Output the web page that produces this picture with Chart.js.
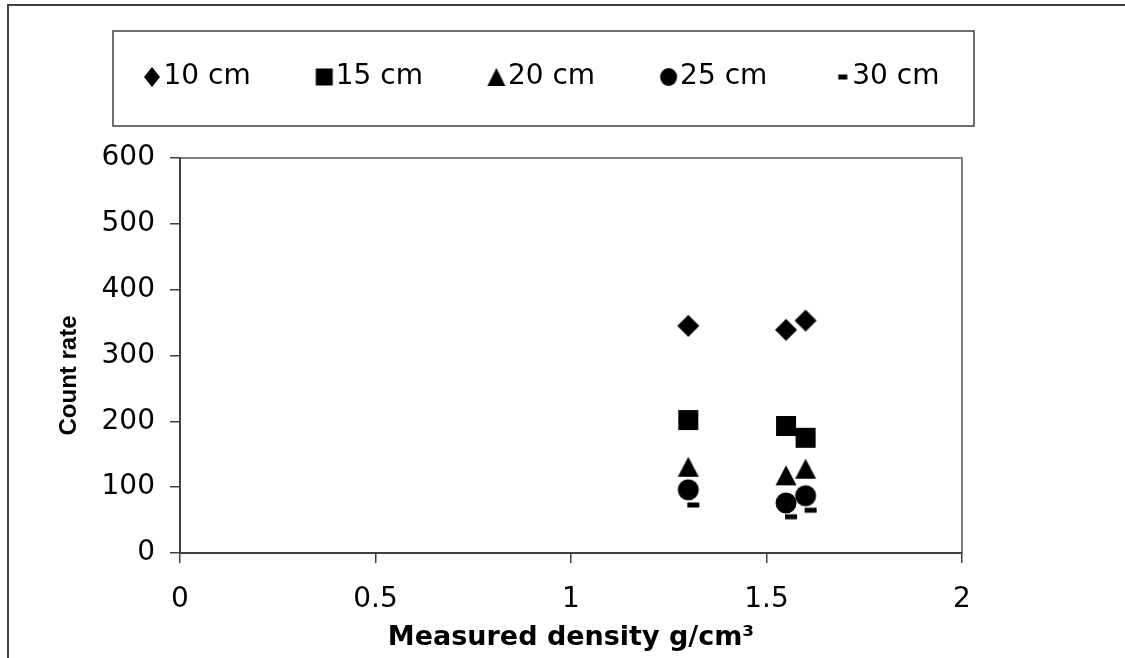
<!DOCTYPE html>
<html><head><meta charset="utf-8">
<script src="https://cdn.jsdelivr.net/npm/chart.js@4.4.1/dist/chart.umd.min.js"></script>
<style>html,body{margin:0;padding:0;background:#fff;overflow:hidden}#c{display:block}</style>
</head><body>
<canvas id="c" width="1125" height="658"></canvas>
<script>
// ---- data ----
const xDensity = [1.3, 1.55, 1.6];
const seriesLabels = ['10 cm', '15 cm', '20 cm', '25 cm', '30 cm'];
const count10 = [345, 339, 353];
const count15 = [202, 193, 175];
const count20 = [131, 118, 128];
const count25 = [96, 76, 87];
const count30 = [73, 55, 65];
const xTickStep = 0.5, xMin = 0, xMax = 2;
const yTickStep = 100, yMin = 0, yMax = 600;
const xTitle = 'Measured density g/cm³';
const yTitle = 'Count rate';

const counts = [count10, count15, count20, count25, count30];
const shapes = ['diamond', 'square', 'triangle', 'circle', 'dash'];
const FONT = "'DejaVu Sans', 'Liberation Sans', sans-serif";
const FONT_Y = "'Liberation Sans', Arial, sans-serif";

function marker(shape, w, h, cw, ch, ox, oy) {
  const cv = document.createElement('canvas');
  cv.width = cw; cv.height = ch;
  const g = cv.getContext('2d');
  g.fillStyle = '#000';
  const cx = cw / 2 + ox, cy = ch / 2 + oy;
  g.beginPath();
  if (shape === 'diamond') {
    g.moveTo(cx, cy - h / 2); g.lineTo(cx + w / 2, cy); g.lineTo(cx, cy + h / 2); g.lineTo(cx - w / 2, cy); g.closePath();
  } else if (shape === 'square' || shape === 'dash') {
    g.rect(cx - w / 2, cy - h / 2, w, h);
  } else if (shape === 'triangle') {
    g.moveTo(cx, cy - h / 2); g.lineTo(cx + w / 2, cy + h / 2); g.lineTo(cx - w / 2, cy + h / 2); g.closePath();
  } else if (shape === 'circle') {
    g.ellipse(cx, cy, w / 2, h / 2, 0, 0, Math.PI * 2);
  }
  g.fill();
  return cv;
}
const plotSizes = {diamond: [22, 22], square: [20, 20], triangle: [21, 20], circle: [21, 21], dash: [12, 5]};
const legSizes = {diamond: [16, 20], square: [17, 17], triangle: [18, 18], circle: [17, 18], dash: [9, 5]};
const plotMarkers = shapes.map(s => marker(s, plotSizes[s][0], plotSizes[s][1], 36, 30, s === 'dash' ? 5 : 0, 0));
const legendMarkers = shapes.map(s => marker(s, legSizes[s][0], legSizes[s][1], 30, 24, s === 'dash' ? 5 : 3, 0));

const LEG_PAD = 70, LEG_FONT = 28, LEG_UP = 57;

const decor = {
  id: 'decor',
  afterLayout(chart) {
    const lg = chart.legend, a = chart.chartArea;
    const want = (a.left + a.right) / 2 - 27;
    const cur = (lg.left + lg.right) / 2;
    lg.left += want - cur; lg.right += want - cur;
    lg.top -= LEG_UP; lg.bottom -= LEG_UP;
  },
  beforeDraw(chart) {
    const c = chart.ctx, a = chart.chartArea, lg = chart.legend;
    c.save();
    c.fillStyle = '#fff'; c.fillRect(0, 0, chart.width, chart.height);
    // outer frame
    c.strokeStyle = '#404040'; c.lineWidth = 2;
    c.beginPath(); c.moveTo(8, chart.height); c.lineTo(8, 5); c.lineTo(chart.width, 5); c.stroke();
    // legend frame
    const ty = lg.top + LEG_PAD + LEG_FONT / 2;
    const lx = a.left + (a.right - a.left) / 2 - 27.5;
    c.lineWidth = 1.5;
    c.strokeRect(lx - 430.5, ty - 46, 861, 95);
    // plot area top/right border
    c.strokeStyle = '#808080'; c.lineWidth = 2;
    c.beginPath(); c.moveTo(a.left, a.top); c.lineTo(a.right, a.top); c.lineTo(a.right, a.bottom); c.stroke();
    c.restore();
  }
};

new Chart(document.getElementById('c'), {
  type: 'scatter',
  data: {
    datasets: seriesLabels.map((lab, i) => ({
      label: lab,
      data: xDensity.map((x, j) => ({x: x, y: counts[i][j]})),
      pointStyle: plotMarkers[i],
      pointRadius: 10,
      backgroundColor: '#000',
      borderColor: '#000',
      showLine: false
    }))
  },
  options: {
    responsive: false,
    animation: false,
    events: [],
    layout: {padding: {top: 50, left: 8, right: 163, bottom: 0}},
    plugins: {
      tooltip: {enabled: false},
      legend: {
        position: 'top',
        labels: {
          usePointStyle: true,
          boxWidth: 1,
          padding: LEG_PAD,
          color: '#000',
          font: {family: FONT, size: LEG_FONT},
          generateLabels(chart) {
            const items = Chart.defaults.plugins.legend.labels.generateLabels(chart);
            items.forEach(it => { it.pointStyle = legendMarkers[it.datasetIndex]; });
            return items;
          }
        }
      }
    },
    scales: {
      x: {
        type: 'linear', min: xMin, max: xMax,
        afterFit(s) { s.height = 105; },
        ticks: {stepSize: xTickStep, padding: 20, color: '#000', font: {family: FONT, size: 28}, autoSkip: false, maxRotation: 0,
                callback: v => String(+v.toFixed(2))},
        grid: {drawOnChartArea: false, drawTicks: true, tickLength: 10, color: '#404040', lineWidth: 1.5},
        border: {display: true, color: '#404040', width: 2},
        title: {display: true, text: xTitle, color: '#000', font: {family: FONT, size: 27, weight: 'bold'}, padding: {top: 0, bottom: 4}}
      },
      y: {
        type: 'linear', min: yMin, max: yMax,
        afterFit(s) { s.width = 172; },
        ticks: {stepSize: yTickStep, padding: 15, color: '#000', font: {family: FONT, size: 28}},
        grid: {drawOnChartArea: false, drawTicks: true, tickLength: 10, color: '#404040', lineWidth: 1.5},
        border: {display: true, color: '#404040', width: 2},
        title: {display: true, text: yTitle + '      ', color: '#000', font: {family: FONT_Y, size: 24, weight: 'bold'}, padding: {top: 46.6, bottom: 0}}
      }
    }
  },
  plugins: [decor]
});
</script>
</body></html>
